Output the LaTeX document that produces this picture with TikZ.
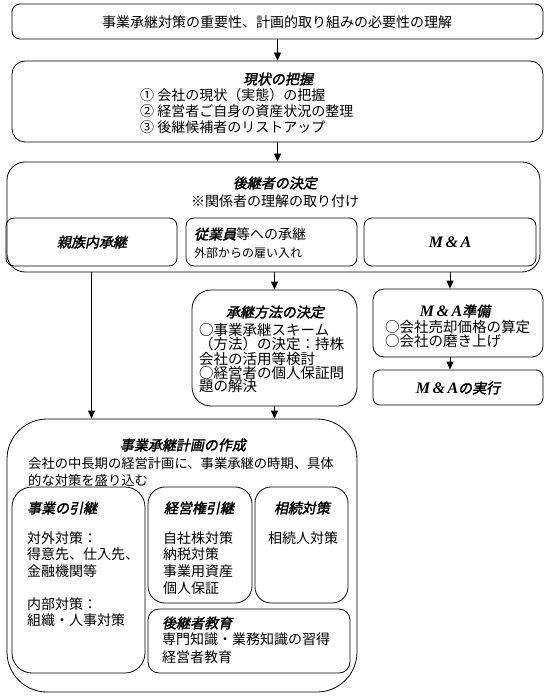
\documentclass[tikz,border=0pt]{standalone}
\usepackage{fontspec}
\setmainfont{Noto Sans CJK JP}
\newfontfamily\ttlfont[FakeSlant=0.2,FakeBold=2]{Noto Sans CJK JP}
\newfontfamily\serfont{Liberation Serif}
\usetikzlibrary{arrows.meta}
\newcommand\ttl{\ttlfont}
\newcommand\MA{{\serfont\bfseries\itshape M\kern2.5pt\&\kern2.5pt A}}
\tikzset{
  box/.style={draw=black, line width=0.8pt, rounded corners=#1, rectangle, inner sep=0pt},
  txt/.style={inner sep=0pt, font=\fontsize{14}{17}\selectfont},
  ttlnode/.style={inner sep=0pt, font=\fontsize{14}{17}\selectfont\ttlfont},
  arr/.style={draw=black, line width=0.8pt, -{Triangle[length=8pt,width=7pt]}}
}
\begin{document}
\begin{tikzpicture}[x=1pt,y=-1pt]
\useasboundingbox (0,0) rectangle (554,700);
% boxes
\node[box=8, minimum width=531pt, minimum height=35pt] (box1) at (277.5,21.5) {};
\node[box=13, minimum width=531pt, minimum height=81pt] (box2) at (277.5,101.5) {};
\node[box=18, minimum width=533pt, minimum height=110pt] (box3) at (273.5,217) {};
\node[box=8, minimum width=171pt, minimum height=48pt] (sub1) at (91.5,242) {};
\node[box=8, minimum width=171pt, minimum height=48pt] (sub2) at (271.5,242) {};
\node[box=8, minimum width=172pt, minimum height=48pt] (sub3) at (450,242) {};
\node[box=19, minimum width=165pt, minimum height=116pt] (method) at (274.5,348) {};
\node[box=11, minimum width=170pt, minimum height=68pt] (mprep) at (458,323) {};
\node[box=7, minimum width=170pt, minimum height=35pt] (mexec) at (458,387.5) {};
\node[box=40, minimum width=350pt, minimum height=273pt] (plan) at (182,555.5) {};
\node[box=20, minimum width=133pt, minimum height=186pt] (biz) at (78.5,580) {};
\node[box=17, minimum width=104pt, minimum height=116pt] (mgmt) at (200,545) {};
\node[box=16, minimum width=93pt, minimum height=116pt] (inh) at (301.5,545) {};
\node[box=11, minimum width=202pt, minimum height=64pt] (edu) at (249,641) {};
% texts
\node[txt] (t1) at (277,22) {事業承継対策の重要性、計画的取り組みの必要性の理解};
\node[ttlnode] (t2) at (278,79) {現状の把握};
\node[txt, anchor=west, align=left, font=\fontsize{14}{16}\selectfont] (t2b) at (140,111) {① 会社の現状（実態）の把握\\② 経営者ご自身の資産状況の整理\\③ 後継候補者のリストアップ};
\node[ttlnode] (t3) at (275,183) {後継者の決定};
\node[txt] (t3b) at (275,201) {※関係者の理解の取り付け};
\node[ttlnode] (s1t) at (92,242) {親族内承継};
\node[txt, anchor=west, align=left, font=\fontsize{14}{18}\selectfont] (s2t) at (194,243) {{\ttlfont 従業員}等への承継\\{\fontsize{12}{14}\selectfont 外部からの雇い入れ}};
\node[ttlnode, font=\fontsize{16}{17}\selectfont] (s3t) at (450,242) {\MA};
\node[ttlnode] (mt) at (275,312) {承継方法の決定};
\node[txt, anchor=west, align=left, font=\fontsize{14.5}{13.5}\selectfont] (mtb) at (199,358) {○事業承継スキーム\\（方法）の決定：持株\\会社の活用等検討\\○経営者の個人保証問\\題の解決};
\node[ttlnode] (pt) at (455,311) {{\fontsize{16}{17}\selectfont\MA}準備};
\node[txt, anchor=west, align=left, font=\fontsize{14.5}{13}\selectfont] (ptb) at (385,334) {○会社売却価格の算定\\○会社の磨き上げ};
\node[ttlnode] (et) at (458,388) {{\fontsize{16}{17}\selectfont\MA}の実行};
\node[ttlnode] (plt) at (183,445) {事業承継計画の作成};
\node[txt, anchor=west, align=left, font=\fontsize{13.3}{17}\selectfont] (pltb) at (28,471.5) {会社の中長期の経営計画に、事業承継の時期、具体\\的な対策を盛り込む};
\node[ttlnode, anchor=west] (bt) at (27,508) {事業の引継};
\node[txt, anchor=west, align=left, font=\fontsize{14}{16.5}\selectfont] (btb) at (27,579) {対外対策：\\得意先、仕入先、\\金融機関等\\[16.5pt]内部対策：\\組織・人事対策};
\node[ttlnode] (gt) at (199,508) {経営権引継};
\node[txt, anchor=west, align=left, font=\fontsize{14}{16.7}\selectfont] (gtb) at (163,563) {自社株対策\\納税対策\\事業用資産\\個人保証};
\node[ttlnode] (it) at (302,508) {相続対策};
\node[txt, anchor=west] (itb) at (268,538) {相続人対策};
\node[ttlnode, anchor=west] (ut) at (162,623) {後継者教育};
\node[txt, anchor=west, align=left, font=\fontsize{14}{18}\selectfont] (utb) at (162,648) {専門知識・業務知識の習得\\経営者教育};
% connectors
\draw[arr] (box1.south) -- (box2.north);
\draw[arr] (box2.south) -- (box2.south |- box3.north);
\draw[arr] (box3.south -| sub1.south) -- (plan.north -| sub1.south);
\draw[arr] (box3.south -| method.north) -- (method.north);
\draw[arr] (box3.south -| sub3.south) -- (mprep.north -| sub3.south);
\draw[arr] (mprep.south -| sub3.south) -- (mexec.north -| sub3.south);
\draw[arr] (method.south) -- (plan.north -| method.south);
\end{tikzpicture}
\end{document}
